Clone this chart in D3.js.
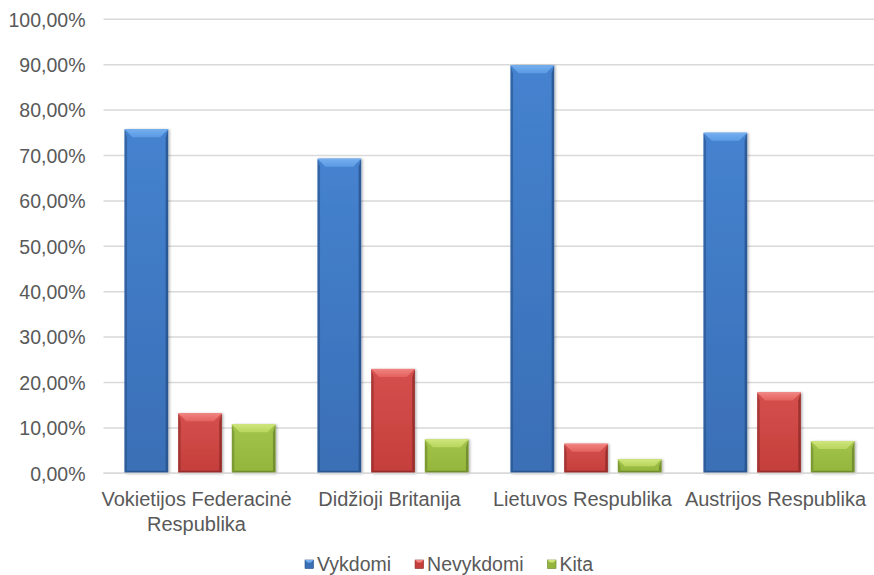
<!DOCTYPE html>
<html>
<head>
<meta charset="utf-8">
<script src="https://cdn.jsdelivr.net/npm/d3@7"></script>
<style>
  html, body { margin: 0; padding: 0; background: #fff; }
  svg { display: block; }
  text { font-family: "Liberation Sans", Arial, sans-serif; fill: #595959; }
</style>
</head>
<body>
<svg id="chart" width="874" height="575"></svg>
<script>
const categories = ["Vokietijos Federacinė\nRespublika", "Didžioji Britanija", "Lietuvos Respublika", "Austrijos Respublika"];
const seriesNames = ["Vykdomi", "Nevykdomi", "Kita"];
const vykdomi = [75.8, 69.3, 89.9, 75.0];
const nevykdomi = [13.2, 23.0, 6.5, 17.8];
const kita = [10.8, 7.5, 3.1, 7.1];
const yTicks = [0, 10, 20, 30, 40, 50, 60, 70, 80, 90, 100];
const seriesValues = [vykdomi, nevykdomi, kita];

const palette = {
  Vykdomi:   { body: "#3A6FB6", light: "#5C9BE4", top: "#74AEEE", dark: "#264E86", mid: "#4582CF" },
  Nevykdomi: { body: "#C43E3B", light: "#E4625F", top: "#F08380", dark: "#882826", mid: "#D4504D" },
  Kita:      { body: "#93B53C", light: "#B9D65E", top: "#CDE57A", dark: "#67822A", mid: "#A2C44A" }
};

const svg = d3.select("#chart");
const plot = { left: 103.5, right: 875.5, top: 19.3, bottom: 473.3 };

const y = d3.scaleLinear().domain([0, 100]).range([plot.bottom, plot.top]);
const x0 = d3.scaleBand().domain(categories).range([plot.left, plot.right]).paddingInner(0).paddingOuter(0);
const x1 = d3.scaleBand().domain(seriesNames).range([0, x0.bandwidth()]).paddingInner(0.187).paddingOuter(0.392);

const defs = svg.append("defs");
const f = defs.append("filter").attr("id", "shadow").attr("x", "-20%").attr("y", "-10%").attr("width", "150%").attr("height", "130%");
f.append("feDropShadow").attr("dx", 1.5).attr("dy", 0.5).attr("stdDeviation", 1.2).attr("flood-color", "#000").attr("flood-opacity", 0.28);

seriesNames.forEach(s => {
  const c = palette[s];
  const g = defs.append("linearGradient").attr("id", "body-" + s).attr("x1", 0).attr("y1", 0).attr("x2", 0).attr("y2", 1);
  g.append("stop").attr("offset", "0%").attr("stop-color", c.mid);
  g.append("stop").attr("offset", "100%").attr("stop-color", c.body);
  const t = defs.append("linearGradient").attr("id", "top-" + s).attr("x1", 0).attr("y1", 0).attr("x2", 0).attr("y2", 1);
  t.append("stop").attr("offset", "0%").attr("stop-color", c.top);
  t.append("stop").attr("offset", "100%").attr("stop-color", c.light);
});

// gridlines
const grid = svg.append("g").attr("class", "grid");
grid.selectAll("line").data(yTicks).join("line")
  .attr("x1", plot.left).attr("x2", plot.right)
  .attr("y1", d => y(d)).attr("y2", d => y(d))
  .attr("stroke", "#D9D9D9").attr("stroke-width", 1.5);

// y axis labels
const yAxis = d3.axisLeft(y).tickValues(yTicks).tickSize(0).tickPadding(0)
  .tickFormat(d => d3.format(".2f")(d).replace(".", ",") + "%");
const yg = svg.append("g").attr("transform", `translate(${plot.left - 18},0)`).call(yAxis);
yg.select(".domain").remove();
yg.selectAll("text").style("font-size", "19.5px").attr("fill", "#595959").attr("dy", "0.35em");

// bars
const data = [];
categories.forEach((cat, i) => {
  seriesNames.forEach((s, j) => data.push({ cat, s, v: seriesValues[j][i] }));
});

const bev = 8, side = 2.5;
const bars = svg.append("g").selectAll("g.bar").data(data).join("g").attr("class", "bar")
  .attr("filter", "url(#shadow)");

bars.each(function(d) {
  const g = d3.select(this);
  const c = palette[d.s];
  const bx = x0(d.cat) + x1(d.s), bw = x1.bandwidth();
  const by = y(d.v), bh = y(0) - y(d.v);
  const b = Math.min(bev, bh / 2, bw / 2);
  g.append("rect").attr("x", bx).attr("y", by).attr("width", bw).attr("height", bh)
    .attr("fill", `url(#body-${d.s})`);
  g.append("path").attr("d", `M${bx},${by} L${bx + side},${by + b} L${bx + side},${by + bh - side} L${bx},${by + bh} Z`)
    .attr("fill", c.dark).attr("opacity", 0.55);
  g.append("path").attr("d", `M${bx + bw},${by} L${bx + bw - side},${by + b} L${bx + bw - side},${by + bh - side} L${bx + bw},${by + bh} Z`)
    .attr("fill", c.dark).attr("opacity", 0.75);
  g.append("path").attr("d", `M${bx},${by + bh} L${bx + side},${by + bh - side} L${bx + bw - side},${by + bh - side} L${bx + bw},${by + bh} Z`)
    .attr("fill", c.dark).attr("opacity", 0.8);
  g.append("path").attr("d", `M${bx},${by} L${bx + bw},${by} L${bx + bw - b},${by + b} L${bx + b},${by + b} Z`)
    .attr("fill", `url(#top-${d.s})`);
  g.append("line").attr("x1", bx + 0.5).attr("x2", bx + bw - 0.5).attr("y1", by + 0.6).attr("y2", by + 0.6)
    .attr("stroke", c.top).attr("stroke-width", 1.2);
});

// baseline
svg.append("line").attr("x1", plot.left).attr("x2", plot.right).attr("y1", y(0)).attr("y2", y(0))
  .attr("stroke", "#D9D9D9").attr("stroke-width", 1.5);

// category labels
const catG = svg.append("g");
categories.forEach(cat => {
  const lines = cat.split("\n");
  const cx = x0(cat) + x0.bandwidth() / 2 - 3.5;
  const t = catG.append("text").attr("text-anchor", "middle")
    .attr("x", cx).attr("y", 506)
    .style("font-size", "20px");
  lines.forEach((ln, k) => {
    t.append("tspan").attr("x", cx).attr("dy", k === 0 ? 0 : 25).text(ln);
  });
});

// legend
const leg = svg.append("g");
let lx = 305;
seriesNames.forEach(s => {
  const c = palette[s];
  const item = leg.append("g");
  item.append("rect").attr("x", lx).attr("y", 560).attr("width", 8.5).attr("height", 8.5).attr("fill", c.body)
    .attr("stroke", c.dark).attr("stroke-width", 0.6);
  item.append("path").attr("d", `M${lx},${560} L${lx + 8.5},560 L${lx + 6},562.5 L${lx + 2.5},562.5 Z`).attr("fill", c.top);
  const t = item.append("text").attr("x", lx + 12).attr("y", 571).style("font-size", "19.5px").text(s);
  lx += 12 + t.node().getComputedTextLength() + 24;
});
</script>
</body>
</html>
